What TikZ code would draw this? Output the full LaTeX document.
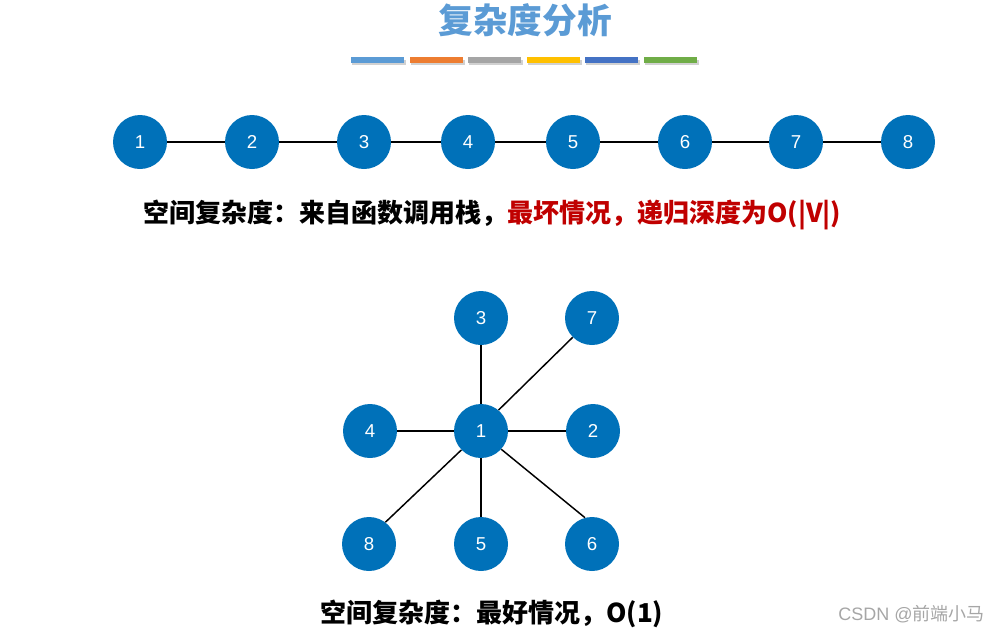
\documentclass[tikz,border=0pt]{standalone}
\usepackage{fontspec}
\setmainfont{Liberation Sans}
\newfontfamily\cjk{Noto Sans CJK SC}
\definecolor{nodeblue}{RGB}{0,113,185}
\definecolor{titleblue}{RGB}{91,155,213}
\definecolor{warnred}{RGB}{192,0,0}
\definecolor{barblue}{RGB}{91,155,213}
\definecolor{barorange}{RGB}{237,125,49}
\definecolor{bargray}{RGB}{165,165,165}
\definecolor{baryellow}{RGB}{255,192,0}
\definecolor{bardeep}{RGB}{68,114,196}
\definecolor{bargreen}{RGB}{112,173,71}
\tikzset{
  vertex/.style={circle, fill=nodeblue, draw=none, minimum size=40.5pt, inner sep=0pt, text=white, font=\fontsize{14}{14}\selectfont},
  edge/.style={line width=1.1pt, black},
  bar/.style={draw=none},
  barshadow/.style={draw=none, fill=black, opacity=0.18},
}
\begin{document}
\begin{tikzpicture}[x=0.75pt,y=0.75pt,yscale=-1,xscale=1]
\useasboundingbox (0,0) rectangle (990,633);

% Title
\draw (525,20) node [inner sep=0.75pt, text=titleblue, font=\cjk\bfseries\fontsize{26}{26}\selectfont] (title) {复杂度分析};

% Colour bars
\foreach \x/\c in {351/barblue, 410/barorange, 468/bargray, 527/baryellow, 585/bardeep, 644/bargreen}{
  \fill [barshadow] (\x+1,60) rectangle (\x+55,65);
  \fill [bar, \c] (\x,57) rectangle (\x+53,63);
}

% Path graph
\node [vertex] (p1) at (140,142) {1};
\node [vertex] (p2) at (252,142) {2};
\node [vertex] (p3) at (364,142) {3};
\node [vertex] (p4) at (468,142) {4};
\node [vertex] (p5) at (573,142) {5};
\node [vertex] (p6) at (685,142) {6};
\node [vertex] (p7) at (796,142) {7};
\node [vertex] (p8) at (908,142) {8};

\draw [edge] (p1) -- (p2);
\draw [edge] (p2) -- (p3);
\draw [edge] (p3) -- (p4);
\draw [edge] (p4) -- (p5);
\draw [edge] (p5) -- (p6);
\draw [edge] (p6) -- (p7);
\draw [edge] (p7) -- (p8);

% Text Node
\draw (143,215) node [anchor=west, inner sep=0pt, font=\cjk\bfseries\fontsize{19.5}{19.5}\selectfont] (worst) {空间复杂度：来自函数调用栈，\textcolor{warnred}{最坏情况，递归深度为O(|V|)}};

% Star graph
\node [vertex] (s1) at (481,431) {1};
\node [vertex] (s3) at (481,318) {3};
\node [vertex] (s7) at (592,318) {7};
\node [vertex] (s4) at (370,431) {4};
\node [vertex] (s2) at (593,431) {2};
\node [vertex] (s8) at (369,544) {8};
\node [vertex] (s5) at (481,544) {5};
\node [vertex] (s6) at (592,544) {6};

\draw [edge] (s1) -- (s3);
\draw [edge] (s1.50) -- (s7.225);
\draw [edge] (s1) -- (s4);
\draw [edge] (s1) -- (s2);
\draw [edge] (s1.224) -- (s8.53);
\draw [edge] (s1) -- (s5);
\draw [edge] (s1.-42) -- (s6.105);

% Text Node
\draw (320,614) node [anchor=west, inner sep=0pt, font=\cjk\bfseries\fontsize{19.5}{19.5}\selectfont] (best) {空间复杂度：最好情况，O(1)};

% Watermark
\draw (985,614) node [anchor=east, inner sep=0pt, text=black!35, font=\fontsize{13.5}{13.5}\selectfont] (mark) {CSDN @{\cjk 前端小马}};

\end{tikzpicture}
\end{document}
